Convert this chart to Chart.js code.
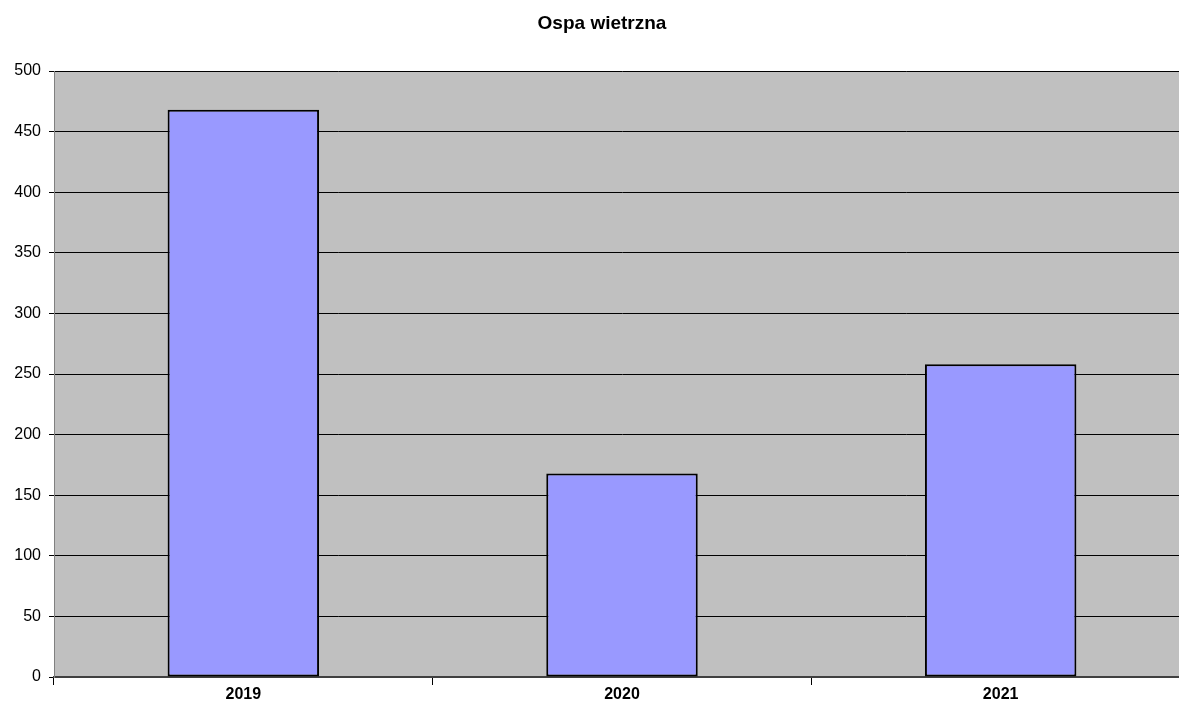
<!DOCTYPE html>
<html>
<head>
<meta charset="utf-8">
<script src="https://cdn.jsdelivr.net/npm/chart.js@4"></script>
<style>
html,body{margin:0;padding:0;background:#fff;overflow:hidden;width:1179px;height:704px;}
#wrap{position:absolute;left:0;top:0;width:1190px;height:704px;}
</style>
</head>
<body>
<div id="wrap"><canvas id="c" width="1190" height="704"></canvas></div>
<script>
const titleText = "Ospa wietrzna";
const categories = ["2019", "2020", "2021"];
const values = [468, 168, 258];
const yTicks = [0, 50, 100, 150, 200, 250, 300, 350, 400, 450, 500];

const bgPlugin = {
  id: 'bg',
  beforeDraw(chart) {
    const {ctx, chartArea: a} = chart;
    ctx.save();
    ctx.fillStyle = '#c0c0c0';
    ctx.fillRect(a.left, a.top, a.right - a.left, a.bottom - a.top);
    ctx.restore();
  },
  afterDraw(chart) {
    const {ctx} = chart;
    ctx.save();
    ctx.font = 'bold 19px "Liberation Sans", Arial, sans-serif';
    ctx.fillStyle = '#000';
    ctx.textAlign = 'center';
    ctx.textBaseline = 'middle';
    ctx.fillText(titleText, 602, 24);
    ctx.restore();
  }
};

new Chart(document.getElementById('c'), {
  type: 'bar',
  data: {
    labels: categories,
    datasets: [{
      data: values,
      backgroundColor: '#9999ff',
      borderColor: '#000',
      borderWidth: {top: 2, left: 2, right: 2, bottom: 2},
      borderSkipped: false,
      categoryPercentage: 1.0,
      barPercentage: 0.4
    }]
  },
  options: {
    responsive: false,
    animation: false,
    devicePixelRatio: 1,
    layout: {padding: {top: 71, left: 0, right: 0, bottom: 0}},
    plugins: {legend: {display: false}, tooltip: {enabled: false}, title: {display: false}},
    scales: {
      x: {
        offset: true,
        grid: {display: true, offset: true, drawOnChartArea: false, drawTicks: true, tickLength: 8, color: '#000'},
        border: {display: true, color: '#404040', width: 2},
        ticks: {color: '#000', padding: 0, font: {family: '"Liberation Sans", Arial, sans-serif', size: 16, weight: 'bold'}},
        afterFit(s) { s.height = 27; }
      },
      y: {
        min: 0, max: 500,
        afterBuildTicks(s) { s.ticks = yTicks.map(v => ({value: v})); },
        grid: {color: '#000', lineWidth: 1, tickLength: 5},
        border: {display: true, color: '#808080', width: 1},
        ticks: {color: '#000', padding: 8, font: {family: '"Liberation Sans", Arial, sans-serif', size: 16}},
        afterFit(s) { s.width = 54; }
      }
    }
  },
  plugins: [bgPlugin]
});
</script>
</body>
</html>
